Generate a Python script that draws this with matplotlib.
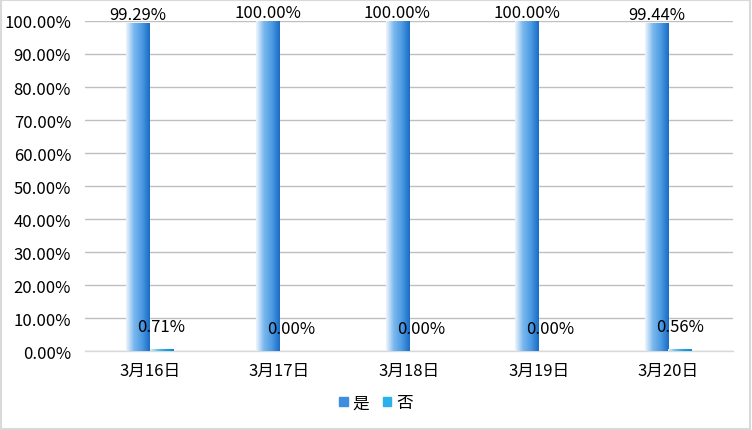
import numpy as np
import matplotlib
matplotlib.use('agg')
import matplotlib.pyplot as plt
from matplotlib.colors import LinearSegmentedColormap
from matplotlib.patches import Rectangle

plt.rcParams['font.family'] = ['Noto Sans CJK SC', 'DejaVu Sans']

categories = ['3月16日', '3月17日', '3月18日', '3月19日', '3月20日']
yes_vals = [99.29, 100.00, 100.00, 100.00, 99.44]
no_vals = [0.71, 0.00, 0.00, 0.00, 0.56]
series_names = ['是', '否']

cmap_yes = LinearSegmentedColormap.from_list('yes', ['#eef5fd', '#7ab8ee', '#4d9be3', '#1a6cc6'])
cmap_no = LinearSegmentedColormap.from_list('no', ['#d5f0fc', '#55c3f0', '#1ba3e0', '#0a8fd0'])

fs = 12

fig = plt.figure(figsize=(7.52, 4.31), dpi=100)
ax = fig.add_axes([0.113, 0.183, 0.862, 0.766])

x = np.arange(len(categories))
w = 0.18
grad = np.linspace(0, 1, 64).reshape(1, -1)

def gradient_bars(xs, vals, cmap):
    bars = ax.bar(xs, vals, w, color='none', edgecolor='none', zorder=3)
    for b in bars:
        x0, y0 = b.get_x(), b.get_y()
        h = b.get_height()
        if h <= 0:
            continue
        im = ax.imshow(grad, cmap=cmap, aspect='auto', zorder=3,
                       extent=[x0, x0 + b.get_width(), y0, y0 + h])
        im.set_clip_path(b)
    return bars

gradient_bars(x - w / 2, yes_vals, cmap_yes)
gradient_bars(x + w / 2, no_vals, cmap_no)

for i in range(len(categories)):
    ax.annotate(f'{yes_vals[i]:.2f}%', (x[i] - w / 2, yes_vals[i]), xytext=(0, 0),
                textcoords='offset points', ha='center', va='bottom', fontsize=fs, zorder=5)
    ax.annotate(f'{no_vals[i]:.2f}%', (x[i] + w / 2, no_vals[i]), xytext=(0, 10),
                textcoords='offset points', ha='center', va='bottom', fontsize=fs, zorder=5)

ax.set_xlim(-0.5, len(categories) - 0.5)
ax.set_ylim(0, 100)
ax.set_yticks(np.arange(0, 101, 10))
ax.set_yticklabels([f'{v:.2f}%' for v in np.arange(0, 101, 10)], fontsize=fs)
ax.set_xticks(x)
ax.set_xticklabels(categories, fontsize=fs)
ax.tick_params(axis='y', length=0, pad=10)
ax.tick_params(axis='x', length=0, pad=8)
ax.yaxis.grid(True, color='#bfbfbf', linewidth=1)
ax.set_axisbelow(True)
for s in ['top', 'right', 'left']:
    ax.spines[s].set_visible(False)
ax.spines['bottom'].set_color('#d9d9d9')
ax.spines['bottom'].set_linewidth(1)

# legend
handles = [Rectangle((0, 0), 1, 1, color='#3d8ee0'), Rectangle((0, 0), 1, 1, color='#2ab0ea')]
fig.legend(handles, series_names, loc='center', bbox_to_anchor=(0.5, 0.063), ncol=2, frameon=False,
           fontsize=fs, handlelength=0.5, handleheight=0.5, handletextpad=0.3, columnspacing=0.8)

fig.add_artist(Rectangle((0.001, 0.002), 0.997, 0.996, transform=fig.transFigure,
                         fill=False, edgecolor='#d9d9d9', linewidth=1.5))

fig.savefig('out.png', dpi=100)
